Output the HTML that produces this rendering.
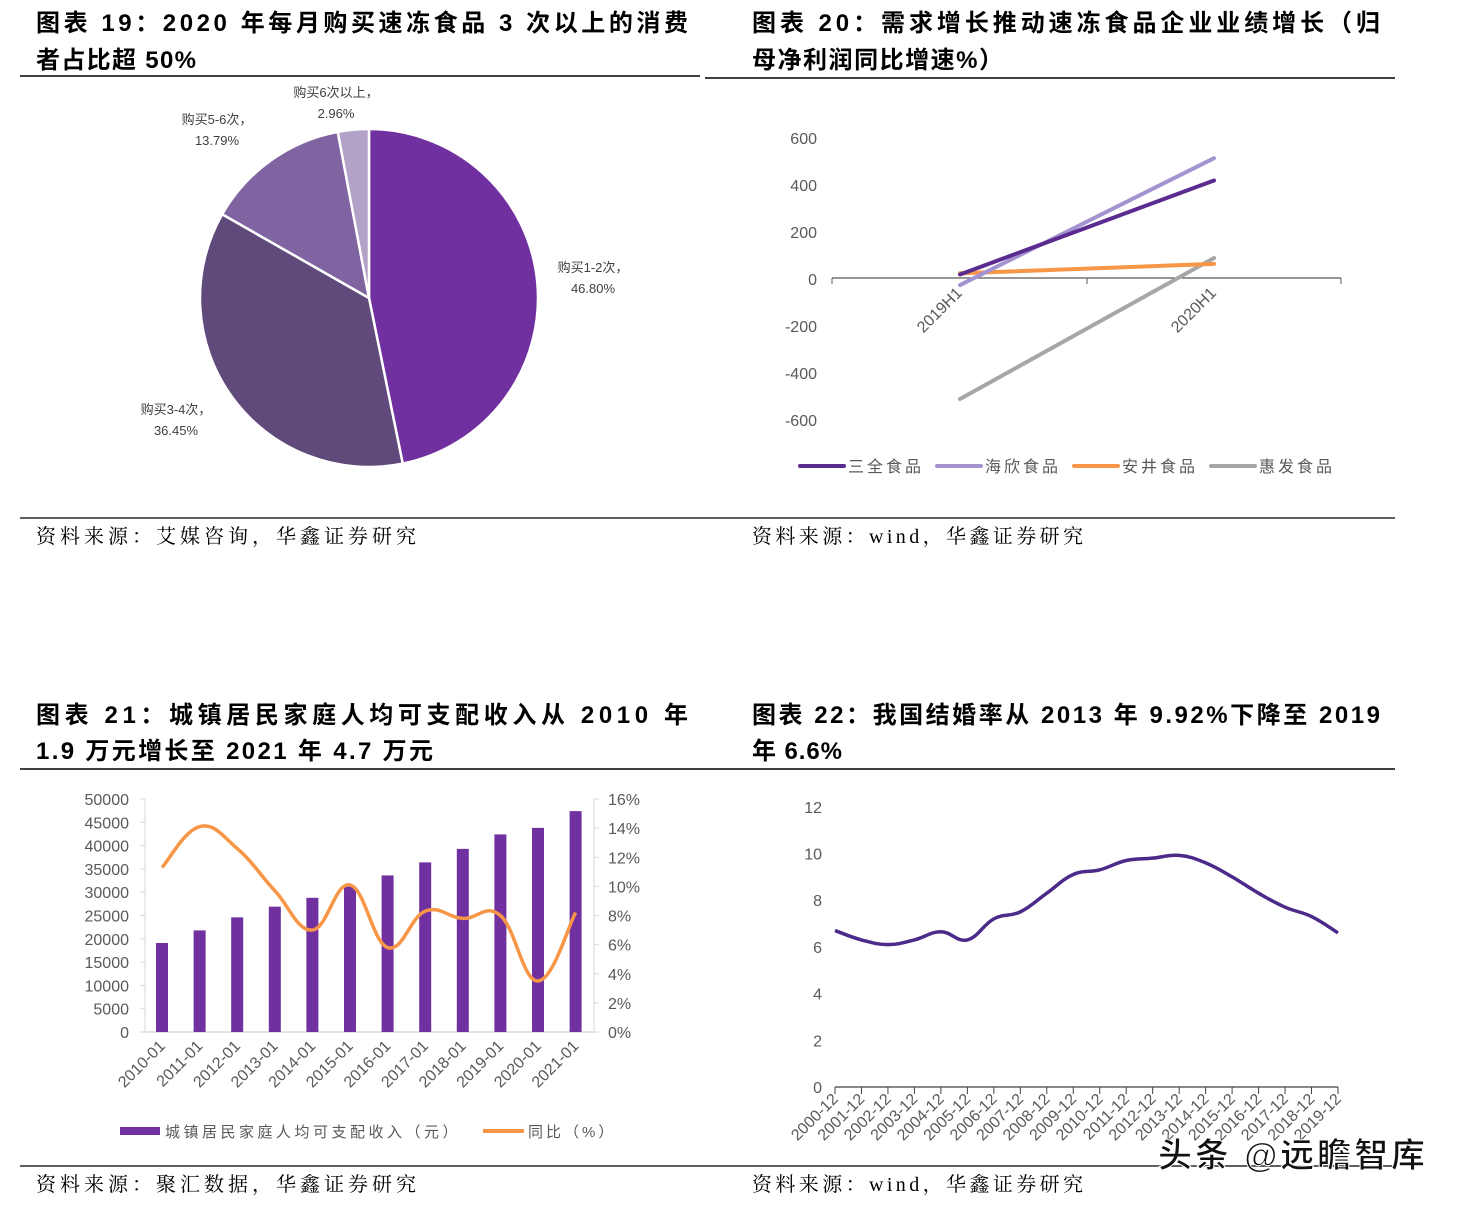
<!DOCTYPE html>
<html><head><meta charset="utf-8"><style>
body{margin:0;background:#fff;}
svg text{font-family:"Liberation Sans","Noto Sans CJK SC",sans-serif;}
.t{font-family:"Liberation Sans","Noto Sans CJK SC",sans-serif;font-weight:bold;font-size:24px;fill:#000}
.s{font-family:"Liberation Serif","Noto Serif CJK SC",serif;font-size:20px;fill:#000}
.ax{font-size:16px;fill:#595959}
</style></head><body>
<svg id="root" width="1459" height="1205" viewBox="0 0 1459 1205" xmlns="http://www.w3.org/2000/svg">
<text class="t" x="36" y="31" textLength="652" lengthAdjust="spacing">图表 19：2020 年每月购买速冻食品 3 次以上的消费</text>
<text class="t" x="36" y="68" textLength="160" lengthAdjust="spacing">者占比超 50%</text>
<line x1="20" y1="76" x2="700" y2="76" stroke="#000" stroke-width="1.5"/>
<text class="t" x="752" y="31" textLength="628" lengthAdjust="spacing">图表 20：需求增长推动速冻食品企业业绩增长（归</text>
<text class="t" x="752" y="68" textLength="251" lengthAdjust="spacing">母净利润同比增速%）</text>
<line x1="705" y1="78" x2="1395" y2="78" stroke="#000" stroke-width="1.5"/>
<line x1="20" y1="518" x2="1395" y2="518" stroke="#000" stroke-width="1.2"/>
<text class="s" x="36" y="543" textLength="380" lengthAdjust="spacing">资料来源：艾媒咨询，华鑫证券研究</text>
<text class="s" x="752" y="543" textLength="331" lengthAdjust="spacing">资料来源：wind，华鑫证券研究</text>
<text class="t" x="36" y="723" textLength="652" lengthAdjust="spacing">图表 21：城镇居民家庭人均可支配收入从 2010 年</text>
<text class="t" x="36" y="759" textLength="397" lengthAdjust="spacing">1.9 万元增长至 2021 年 4.7 万元</text>
<text class="t" x="752" y="723" textLength="628" lengthAdjust="spacing">图表 22：我国结婚率从 2013 年 9.92%下降至 2019</text>
<text class="t" x="752" y="759" textLength="90" lengthAdjust="spacing">年 6.6%</text>
<line x1="20" y1="769" x2="1395" y2="769" stroke="#000" stroke-width="1.5"/>
<line x1="20" y1="1166" x2="1395" y2="1166" stroke="#000" stroke-width="1.2"/>
<text class="s" x="36" y="1191" textLength="380" lengthAdjust="spacing">资料来源：聚汇数据，华鑫证券研究</text>
<text class="s" x="752" y="1191" textLength="331" lengthAdjust="spacing">资料来源：wind，华鑫证券研究</text>
<g id="pie"></g>
<g id="c20"></g>
<g id="c21"></g>
<g id="c22"></g>
<text x="1158" y="1167" font-size="34" font-weight="bold" fill="#111" stroke="#fff" stroke-width="1" textLength="267" lengthAdjust="spacing">头条 @远瞻智库</text>
</svg>
<script>
const NS="http://www.w3.org/2000/svg";
function mk(p,tag,a,txt){const e=document.createElementNS(NS,tag);for(const k in a)e.setAttribute(k,a[k]);if(txt!=null)e.textContent=txt;p.appendChild(e);return e;}
// ---- pie data
const pieLabels=["购买1-2次","购买3-4次","购买5-6次","购买6次以上"];
const pieValues=[46.80,36.45,13.79,2.96];
const pieColors=["#7030A0","#604A7B","#8064A2","#B2A2C7"];
// ---- chart20 data
const c20Cats=["2019H1","2020H1"];
const c20Names=["三全食品","海欣食品","安井食品","惠发食品"];
const c20Sanquan=[15,415];
const c20Haixin=[-30,510];
const c20Anjing=[20,60];
const c20Huifa=[-515,85];
const c20Ticks=[600,400,200,0,-200,-400,-600];
// ---- chart21 data
const c21Cats=["2010-01","2011-01","2012-01","2013-01","2014-01","2015-01","2016-01","2017-01","2018-01","2019-01","2020-01","2021-01"];
const c21Income=[19100,21800,24600,26900,28800,31200,33600,36400,39300,42400,43800,47400];
const c21Growth=[11.3,14.1,12.6,9.7,7.0,10.1,5.8,8.3,7.8,8.0,3.5,8.2];
const c21LeftTicks=[0,5000,10000,15000,20000,25000,30000,35000,40000,45000,50000];
const c21RightTicks=[0,2,4,6,8,10,12,14,16];
// ---- chart22 data
const c22Cats=["2000-12","2001-12","2002-12","2003-12","2004-12","2005-12","2006-12","2007-12","2008-12","2009-12","2010-12","2011-12","2012-12","2013-12","2014-12","2015-12","2016-12","2017-12","2018-12","2019-12"];
const c22Rate=[6.7,6.3,6.1,6.3,6.65,6.3,7.2,7.5,8.3,9.1,9.3,9.7,9.8,9.92,9.6,9.0,8.3,7.7,7.3,6.6];
const c22Ticks=[0,2,4,6,8,10,12];

function smooth(pts){let d="M"+pts[0][0]+","+pts[0][1];for(let i=0;i<pts.length-1;i++){const p0=pts[i-1]||pts[i],p1=pts[i],p2=pts[i+1],p3=pts[i+2]||p2;const t=0.2;d+=" C"+(p1[0]+(p2[0]-p0[0])*t)+","+(p1[1]+(p2[1]-p0[1])*t)+" "+(p2[0]-(p3[0]-p1[0])*t)+","+(p2[1]-(p3[1]-p1[1])*t)+" "+p2[0]+","+p2[1];}return d;}

// pie
(function(){const g=document.getElementById("pie");const cx=369,cy=298,r=169;const tot=pieValues.reduce((a,b)=>a+b,0);let a0=-Math.PI/2;
const lp=[[593,272],[176,414],[217,124],[336,97]];
pieValues.forEach((v,i)=>{const a1=a0+v/tot*2*Math.PI;const x0=cx+r*Math.cos(a0),y0=cy+r*Math.sin(a0),x1=cx+r*Math.cos(a1),y1=cy+r*Math.sin(a1);
const p=mk(g,"path",{d:`M${cx},${cy} L${x0},${y0} A${r},${r} 0 ${a1-a0>Math.PI?1:0} 1 ${x1},${y1} Z`,fill:pieColors[i],stroke:"#fff","stroke-width":2.5});


const t=mk(g,"text",{x:lp[i][0],y:lp[i][1],"font-size":13,fill:"#404040","text-anchor":"middle"},pieLabels[i]+"，");


const t2=mk(g,"text",{x:lp[i][0],y:lp[i][1]+21,"font-size":13,fill:"#404040","text-anchor":"middle"},v.toFixed(2)+"%");


a0=a1;});})();

// chart20
(function(){const g=document.getElementById("c20");const y=v=>278-v*0.235;const x=i=>960+i*254;
mk(g,"line",{x1:832,y1:278,x2:1341,y2:278,stroke:"#595959","stroke-width":1.3});
[832,1087,1341].forEach(t=>mk(g,"line",{x1:t,y1:278,x2:t,y2:284,stroke:"#595959"}));
c20Ticks.forEach(v=>{const t=mk(g,"text",{x:817,y:y(v)+7,"text-anchor":"end",class:"ax","font-size":18},v);});
c20Cats.forEach((c,i)=>{const t=mk(g,"text",{x:x(i)+3,y:294,"text-anchor":"end",class:"ax","font-size":17,transform:`rotate(-45 ${x(i)+3} 294)`},c);});
const ser=[c20Sanquan,c20Haixin,c20Anjing,c20Huifa];const cols=["#5B2C8F","#A393D1","#F79646","#A6A6A6"];
[3,2,1,0].forEach(k=>{const s=ser[k];const l=mk(g,"line",{x1:x(0),y1:y(s[0]),x2:x(1),y2:y(s[1]),stroke:cols[k],"stroke-width":4,"stroke-linecap":"round"});});
c20Names.forEach((n,k)=>{const lx=800+k*137;mk(g,"line",{x1:lx,y1:466,x2:lx+44,y2:466,stroke:cols[k],"stroke-width":4,"stroke-linecap":"round"});const t=mk(g,"text",{x:lx+48,y:472,"font-size":16,fill:"#595959","letter-spacing":"3"},n);});})();

// chart21
(function(){const g=document.getElementById("c21");const y=v=>1032-v*233/50000;const yr=v=>1032-v*233/16;const x=i=>162+i*37.6;
mk(g,"line",{x1:145,y1:799,x2:145,y2:1032,stroke:"#d9d9d9"});mk(g,"line",{x1:594,y1:799,x2:594,y2:1032,stroke:"#d9d9d9"});
mk(g,"line",{x1:145,y1:1032,x2:594,y2:1032,stroke:"#d9d9d9","stroke-width":1.5});
c21LeftTicks.forEach(v=>{mk(g,"line",{x1:140,y1:y(v),x2:145,y2:y(v),stroke:"#d9d9d9"});const t=mk(g,"text",{x:129,y:y(v)+6,"text-anchor":"end",class:"ax"},v);});
c21RightTicks.forEach(v=>{mk(g,"line",{x1:594,y1:yr(v),x2:599,y2:yr(v),stroke:"#d9d9d9"});const t=mk(g,"text",{x:608,y:yr(v)+6,class:"ax"},v+"%");});
c21Income.forEach((v,i)=>{const b=mk(g,"rect",{x:x(i)-6,y:y(v),width:12,height:1032-y(v),fill:"#7030A0"});});
const p=mk(g,"path",{d:smooth(c21Growth.map((v,i)=>[x(i),yr(v)])),fill:"none",stroke:"#F79646","stroke-width":3.5});
c21Cats.forEach((c,i)=>{const t=mk(g,"text",{x:x(i)+4,y:1047,"text-anchor":"end",class:"ax","font-size":17,transform:`rotate(-45 ${x(i)+4} 1047)`},c);});
mk(g,"rect",{x:120,y:1127,width:40,height:8,fill:"#7030A0"});
let t=mk(g,"text",{x:165,y:1137,"font-size":15,fill:"#595959","letter-spacing":"3.5"},"城镇居民家庭人均可支配收入（元）");
mk(g,"line",{x1:483,y1:1131,x2:524,y2:1131,stroke:"#F79646","stroke-width":4});
t=mk(g,"text",{x:528,y:1137,"font-size":15,fill:"#595959","letter-spacing":"3"},"同比（%）");})();

// chart22
(function(){const g=document.getElementById("c22");const y=v=>1087-v*23.35;const x0=835,x1=1338;const x=i=>x0+i*(x1-x0)/(c22Cats.length-1);
mk(g,"line",{x1:x0,y1:1087,x2:x1,y2:1087,stroke:"#404040","stroke-width":1.3});
c22Cats.forEach((c,i)=>{mk(g,"line",{x1:x(i),y1:1087,x2:x(i),y2:1094,stroke:"#404040"});const t=mk(g,"text",{x:x(i)+4,y:1100,"text-anchor":"end",class:"ax","font-size":15,transform:`rotate(-45 ${x(i)+4} 1100)`},c);});
c22Ticks.forEach(v=>{const t=mk(g,"text",{x:822,y:y(v)+6,"text-anchor":"end",class:"ax"},v);});
const p=mk(g,"path",{d:smooth(c22Rate.map((v,i)=>[x(i),y(v)])),fill:"none",stroke:"#4B2A8A","stroke-width":3.5});})();
</script>
</body></html>
